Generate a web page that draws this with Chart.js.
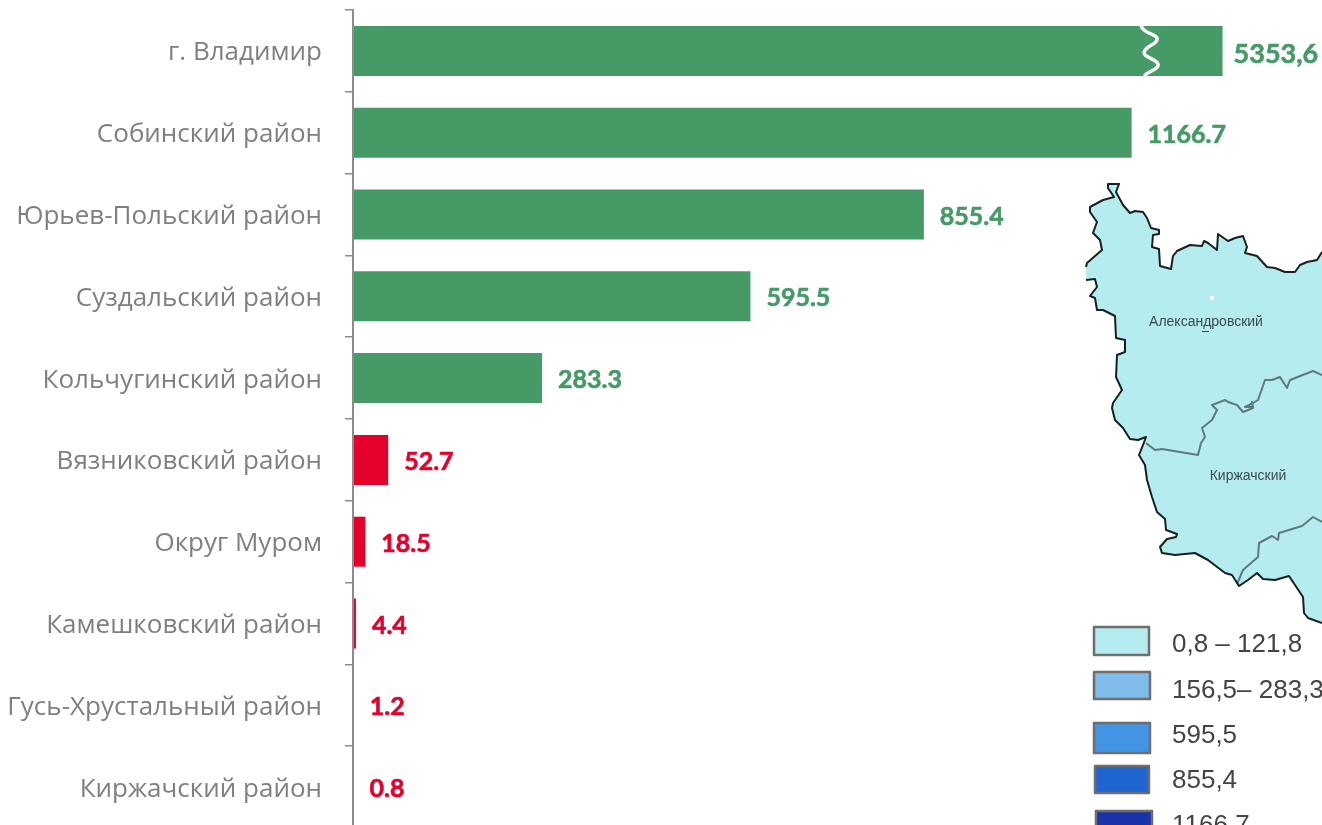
<!DOCTYPE html>
<html lang="ru">
<head>
<meta charset="utf-8">
<title>Районы</title>
<script src="https://cdn.jsdelivr.net/npm/chart.js@4"></script>
<style>
  html, body { margin: 0; padding: 0; background: #fff; overflow: hidden; }
  canvas { display: block; }
</style>
</head>
<body>
<canvas id="districtChart" width="1322" height="830"></canvas>
<script>
// Chart data
const districts = ['г. Владимир', 'Собинский район', 'Юрьев-Польский район', 'Суздальский район', 'Кольчугинский район',
    'Вязниковский район', 'Округ Муром', 'Камешковский район', 'Гусь-Хрустальный район', 'Киржачский район'];
const values = [5353.6, 1166.7, 855.4, 595.5, 283.3, 52.7, 18.5, 4.4, 1.2, 0.8];
const valueLabels = ['5353,6', '1166.7', '855.4', '595.5', '283.3', '52.7', '18.5', '4.4', '1.2', '0.8'];
const barColors = ['#459a66', '#459a66', '#459a66', '#459a66', '#459a66', '#e4002b', '#e4002b', '#e4002b', '#e4002b', '#e4002b'];

// The first bar is cut on the axis, this is where it stops
const axisBreakValue = 1303;
const axisMax = 1452;

// Map legend
const legendLabels = ['0,8 – 121,8', '156,5– 283,3', '595,5', '855,4', '1166,7'];
const legendColors = ['#b4ecef', '#7fbcea', '#4394e5', '#1f66d1', '#1a33ab'];
const legendBoxes = [[1094, 627, 55, 28], [1094, 672, 56, 27], [1094, 723, 56, 30], [1095, 766, 54, 27], [1096, 811, 56, 30]];
const legendTextY = [645, 691, 736, 781, 826];

// Map outline, traced in page pixels
const mapNorth = [[1322, 252], [1317, 260], [1307, 262], [1300, 265], [1295, 272], [1285, 272], [1275, 268], [1267, 267], [1257, 256],
    [1245, 253], [1247, 247], [1243, 236], [1235, 238], [1228, 241], [1218, 234], [1217, 250], [1208, 243], [1204, 241], [1202, 246],
    [1190, 245], [1177, 251], [1173, 256], [1171, 269], [1160, 266], [1159, 249], [1152, 247], [1153, 235], [1159, 234], [1159, 230],
    [1151, 228], [1147, 218], [1143, 212], [1135, 211], [1130, 213], [1123, 205], [1116, 192], [1119, 184], [1108, 184], [1108, 188],
    [1114, 197], [1103, 200], [1090, 207], [1090, 212], [1097, 222], [1093, 233], [1100, 240], [1102, 250], [1095, 256], [1087, 263], [1086, 267]];
const mapWest = [[1086, 280], [1095, 279], [1097, 287], [1090, 296], [1095, 298], [1097, 310], [1103, 310], [1115, 316], [1116, 338],
    [1125, 340], [1125, 352], [1117, 355], [1116, 377], [1122, 390], [1113, 403], [1112, 408], [1115, 420], [1123, 428], [1130, 439],
    [1138, 440], [1146, 437], [1143, 445], [1139, 455], [1145, 465], [1147, 480], [1152, 497], [1157, 512], [1165, 519], [1166, 530],
    [1177, 534], [1176, 537], [1167, 539], [1160, 547], [1162, 553], [1175, 555], [1195, 553], [1208, 560], [1225, 573], [1232, 575],
    [1239, 586], [1248, 580], [1257, 573], [1263, 579], [1275, 580], [1289, 576], [1303, 597], [1304, 613], [1308, 618], [1322, 623]];
const borderAlexandrov = [[1146, 443], [1155, 450], [1162, 449], [1198, 455], [1201, 443], [1205, 437], [1202, 428], [1212, 420], [1217, 410],
    [1212, 405], [1225, 400], [1228, 402], [1237, 405], [1243, 412], [1253, 408], [1252, 402], [1253, 407], [1245, 407], [1253, 403],
    [1258, 400], [1265, 380], [1272, 380], [1280, 377], [1287, 388], [1290, 380], [1313, 371], [1322, 375]];
const borderKirzhach = [[1237, 584], [1243, 570], [1258, 557], [1259, 543], [1272, 536], [1278, 540], [1279, 533], [1302, 526], [1313, 517], [1322, 522]];

function tracePath(ctx, points) {
    ctx.beginPath();
    points.forEach((p, i) => i === 0 ? ctx.moveTo(p[0], p[1]) : ctx.lineTo(p[0], p[1]));
}

// Map, map legend, value labels and the bar break
const decorationPlugin = {
    id: 'decoration',
    afterDatasetsDraw(chart) {
        const ctx = chart.ctx;
        const bars = chart.getDatasetMeta(0).data;
        ctx.save();

        // break mark on the first bar
        const top = bars[0].y - 25;
        const bx = chart.scales.x.getPixelForValue(1181);
        ctx.strokeStyle = '#fff';
        ctx.lineWidth = 3.5;
        ctx.beginPath();
        ctx.moveTo(bx, top);
        ctx.bezierCurveTo(bx + 2, top + 8, bx + 16, top + 8, bx + 16, top + 13);
        ctx.bezierCurveTo(bx + 16, top + 19, bx + 3, top + 20, bx + 3, top + 27);
        ctx.bezierCurveTo(bx + 3, top + 32, bx + 17, top + 33, bx + 17, top + 39);
        ctx.bezierCurveTo(bx + 17, top + 44, bx + 7, top + 45, bx + 3, top + 50);
        ctx.stroke();

        // value labels
        ctx.textBaseline = 'middle';
        ctx.textAlign = 'left';
        ctx.lineWidth = 0.6;
        bars.forEach((bar, i) => {
            ctx.font = i === 0 ? 'bold 27px Lato' : 'bold 25px Lato';
            ctx.fillStyle = barColors[i];
            ctx.strokeStyle = barColors[i];
            const lx = bar.x + (i === 0 ? 11 : 16);
            const ly = bar.y + (i === 0 ? 3 : 2);
            ctx.fillText(valueLabels[i], lx, ly);
            ctx.strokeText(valueLabels[i], lx, ly);
        });

        // map fill
        ctx.fillStyle = '#b4ecef';
        tracePath(ctx, mapNorth.concat(mapWest, [[1322, 623]]));
        ctx.closePath();
        ctx.fill();

        // district borders
        ctx.lineJoin = 'round';
        ctx.strokeStyle = '#5f7a7c';
        ctx.lineWidth = 2;
        tracePath(ctx, borderAlexandrov);
        ctx.stroke();
        tracePath(ctx, borderKirzhach);
        ctx.stroke();

        // region border
        ctx.strokeStyle = '#15201f';
        ctx.lineWidth = 2;
        tracePath(ctx, mapNorth);
        ctx.stroke();
        tracePath(ctx, mapWest);
        ctx.stroke();

        ctx.fillStyle = '#fff';
        ctx.fillRect(1210, 296, 4, 4);
        ctx.fillStyle = '#3c4c4f';
        ctx.fillRect(1202, 331, 7, 1);
        ctx.font = '14px "Liberation Sans"';
        ctx.textAlign = 'center';
        ctx.fillText('Александровский', 1206, 322);
        ctx.fillText('Киржачский', 1248, 476);

        // legend
        ctx.textAlign = 'left';
        ctx.font = '26px "Liberation Sans"';
        legendLabels.forEach((label, i) => {
            const box = legendBoxes[i];
            ctx.fillStyle = legendColors[i];
            ctx.strokeStyle = '#6e6e6e';
            ctx.lineWidth = 2.5;
            ctx.fillRect(box[0], box[1], box[2], box[3]);
            ctx.strokeRect(box[0], box[1], box[2], box[3]);
            ctx.fillStyle = '#444';
            ctx.fillText(label, 1172, legendTextY[i]);
        });
        ctx.restore();
    }
};

new Chart(document.getElementById('districtChart'), {
    type: 'bar',
    data: {
        labels: districts,
        datasets: [{
            data: values.map(v => Math.min(v, axisBreakValue)),
            backgroundColor: barColors,
            barThickness: 50,
            inflateAmount: 0
        }]
    },
    options: {
        indexAxis: 'y',
        responsive: false,
        animation: false,
        layout: { padding: { top: 10, bottom: 2 } },
        plugins: { legend: { display: false }, tooltip: { enabled: false } },
        scales: {
            x: { display: false, min: 0, max: axisMax },
            y: {
                afterFit(scale) {
                    scale.width = 353;
                    scale.paddingTop = 0;
                    scale.paddingBottom = 0;
                },
                border: { color: '#8c8c8c', width: 2, z: 1 },
                grid: { drawOnChartArea: false, color: '#8c8c8c', tickLength: 8, lineWidth: 1.5 },
                ticks: {
                    autoSkip: false,
                    padding: 23,
                    labelOffset: 2,
                    color: '#7f7f7f',
                    font: { family: '"Open Sans"', size: 26 }
                }
            }
        }
    },
    plugins: [decorationPlugin]
});
</script>
</body>
</html>
